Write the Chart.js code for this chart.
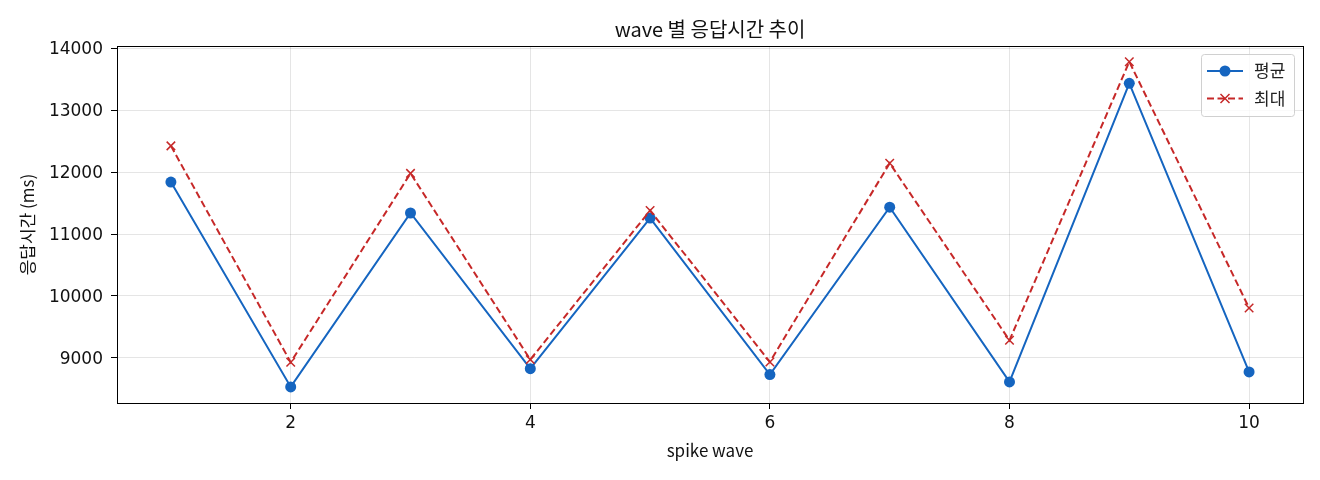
<!DOCTYPE html>
<html>
<head>
<meta charset="utf-8">
<script src="https://cdn.jsdelivr.net/npm/chart.js@4.4.0/dist/chart.umd.min.js"></script>
<style>
body{margin:0;background:#fff}
canvas{display:block}
</style>
</head>
<body>
<canvas id="waveChart" width="1320" height="480"></canvas>
<script>
const waves = [1, 2, 3, 4, 5, 6, 7, 8, 9, 10];
const avgValues = [11840, 8532, 11340, 8827, 11258, 8731, 11435, 8613, 13435, 8774];
const maxValues = [12424, 8929, 11980, 8973, 11381, 8935, 12145, 9284, 13784, 9806];
const xTicks = [2, 4, 6, 8, 10];
const yTicks = [9000, 10000, 11000, 12000, 13000, 14000];
const seriesLabels = ["평균", "최대"];

const blue = "#1565c0";
const red = "#c62828";
const korFont = "'Noto Sans CJK KR', 'Noto Sans', sans-serif";
const numFont = "'DejaVu Sans', sans-serif";

// frame around the plot area (matplotlib spines)
const framePlugin = {
    id: "frame",
    afterDatasetsDraw(chart) {
        const a = chart.chartArea, ctx = chart.ctx;
        ctx.save();
        ctx.strokeStyle = "#000";
        ctx.lineWidth = 1;
        ctx.strokeRect(Math.round(a.left) + 0.5, Math.round(a.top) + 0.5,
            Math.round(a.right - a.left), Math.round(a.bottom - a.top));
        ctx.restore();
    }
};

// legend box in the top right corner, line + marker like matplotlib
const legendPlugin = {
    id: "boxLegend",
    afterDraw(chart) {
        const ctx = chart.ctx, a = chart.chartArea;
        const w = 93, h = 62;
        const x0 = a.right - 9 - w, y0 = a.top + 8;
        ctx.save();
        ctx.beginPath();
        ctx.roundRect(x0 + 0.5, y0 + 0.5, w, h, 3);
        ctx.fillStyle = "rgba(255,255,255,0.8)";
        ctx.fill();
        ctx.strokeStyle = "#d0d0d0";
        ctx.lineWidth = 1;
        ctx.stroke();
        chart.data.datasets.forEach(function(ds, i) {
            const y = y0 + 17 + i * 27.5;
            const lx = x0 + 6, rx = x0 + 42, mx = (lx + rx) / 2;
            ctx.strokeStyle = ds.borderColor;
            ctx.lineWidth = ds.borderWidth;
            ctx.setLineDash(ds.borderDash || []);
            ctx.beginPath();
            ctx.moveTo(lx, y);
            ctx.lineTo(rx, y);
            ctx.stroke();
            ctx.setLineDash([]);
            if (ds.pointStyle === "circle") {
                ctx.fillStyle = ds.pointBackgroundColor;
                ctx.beginPath();
                ctx.arc(mx, y, ds.pointRadius, 0, Math.PI * 2);
                ctx.fill();
            } else {
                const r = ds.pointRadius * 0.75;
                ctx.lineWidth = ds.pointBorderWidth;
                ctx.beginPath();
                ctx.moveTo(mx - r, y - r); ctx.lineTo(mx + r, y + r);
                ctx.moveTo(mx - r, y + r); ctx.lineTo(mx + r, y - r);
                ctx.stroke();
            }
            ctx.fillStyle = "#222";
            ctx.font = "17px " + korFont;
            ctx.textBaseline = "middle";
            ctx.fillText(ds.label, x0 + 53, y);
        });
        ctx.restore();
    }
};

const chart = new Chart("waveChart", {
    type: "line",
    data: {
        datasets: [{
            label: seriesLabels[0],
            data: waves.map((w, i) => ({x: w, y: avgValues[i]})),
            borderColor: blue,
            backgroundColor: blue,
            borderWidth: 2,
            pointStyle: "circle",
            pointRadius: 5.5,
            pointBackgroundColor: blue,
            pointBorderColor: blue,
            pointBorderWidth: 0,
            order: 2
        }, {
            label: seriesLabels[1],
            data: waves.map((w, i) => ({x: w, y: maxValues[i]})),
            borderColor: red,
            backgroundColor: red,
            borderWidth: 2,
            borderDash: [7, 3.5],
            pointStyle: "crossRot",
            pointRadius: 6,
            pointBorderColor: red,
            pointBorderWidth: 1.5,
            order: 1
        }]
    },
    options: {
        responsive: false,
        devicePixelRatio: 1,
        animation: false,
        layout: {padding: {left: 0, right: 17, top: 0, bottom: 0}},
        plugins: {
            legend: {display: false},
            tooltip: {enabled: false},
            title: {
                display: true,
                fullSize: false,
                text: "wave 별 응답시간 추이",
                color: "#111",
                font: {family: korFont, size: 20, weight: "normal", lineHeight: 1.2},
                padding: {top: 17, bottom: 5}
            }
        },
        scales: {
            x: {
                type: "linear",
                min: 0.55,
                max: 10.45,
                afterBuildTicks: s => { s.ticks = xTicks.map(v => ({value: v})); },
                afterFit: s => { s.height = 77; },
                ticks: {
                    color: "#111",
                    font: {family: numFont, size: 17},
                    padding: 4,
                    maxRotation: 0,
                    callback: v => String(v)
                },
                grid: {color: "rgba(0,0,0,0.1)", lineWidth: 1, tickColor: "#000", tickLength: 6, tickWidth: 1},
                border: {display: true, color: "#000", width: 1},
                title: {
                    display: true,
                    text: "spike wave",
                    color: "#111",
                    font: {family: korFont, size: 17, lineHeight: 1.2},
                    padding: {top: 0, bottom: 19}
                }
            },
            y: {
                type: "linear",
                min: 8272,
                max: 14037,
                afterBuildTicks: s => { s.ticks = yTicks.map(v => ({value: v})); },
                afterFit: s => { s.width = 117; },
                ticks: {
                    color: "#111",
                    font: {family: numFont, size: 17},
                    padding: 8,
                    labelOffset: 1.5,
                    callback: v => String(v)
                },
                grid: {color: "rgba(0,0,0,0.1)", lineWidth: 1, tickColor: "#000", tickLength: 6, tickWidth: 1},
                border: {display: true, color: "#000", width: 1},
                title: {
                    display: true,
                    text: "응답시간 (ms)",
                    color: "#111",
                    font: {family: korFont, size: 17, lineHeight: 1.2},
                    padding: {top: 17, bottom: 0}
                }
            }
        }
    },
    plugins: [framePlugin, legendPlugin]
});
</script>
</body>
</html>
